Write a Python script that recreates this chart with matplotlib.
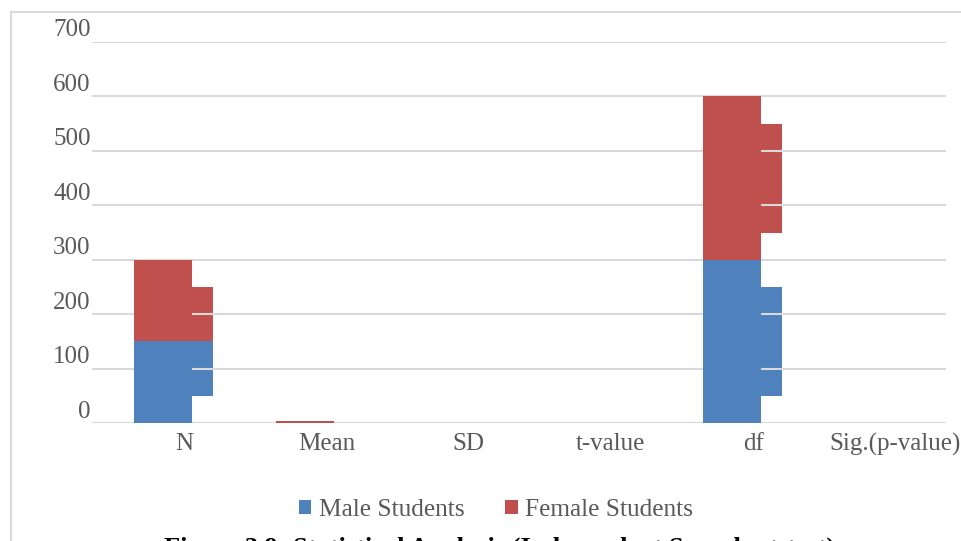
import matplotlib.pyplot as plt
import numpy as np
from matplotlib.patches import Rectangle
from matplotlib.transforms import ScaledTranslation

plt.rcParams['font.family'] = ['Liberation Serif', 'DejaVu Serif']

categories = ['N', 'Mean', 'SD', 't-value', 'df', 'Sig.(p-value)']
male = [150, 0.4, 0.3, 0.2, 300, 0.0]
female = [150, 3.6, 0.4, 0.2, 300, 0.0]

# offset copy of the columns that sits behind the gridlines
back_male_low = [50, 0, 0, 0, 50, 0]
back_male_high = [150, 0, 0, 0, 250, 0]
back_female_low = [150, 0, 0, 0, 350, 0]
back_female_high = [250, 0, 0, 0, 550, 0]

yticks = [0, 100, 200, 300, 400, 500, 600, 700]

BLUE = '#4F81BD'
RED = '#C0504D'
GRID = '#D9D9D9'
TEXT = '#595959'

W, H = 962, 541
fig = plt.figure(figsize=(W / 100, H / 100), dpi=100)
ax = fig.add_axes([92 / W, 118 / H, (946 - 92) / W, (423 - 42) / H])

x = np.arange(len(categories))
width = 0.41
shift = 0.148

# back layer
ax.bar(x, np.array(back_male_high) - np.array(back_male_low), width,
       bottom=back_male_low, color=BLUE, zorder=0.3)
ax.bar(x, np.array(back_female_high) - np.array(back_female_low), width,
       bottom=back_female_low, color=RED, zorder=0.3)

# stacked columns
ax.bar(x - shift, male, width, color=BLUE, label='Male Students', zorder=1)
ax.bar(x - shift, female, width, bottom=male, color=RED,
       label='Female Students', zorder=1)

ax.set_axisbelow(True)
ax.set_ylim(0, 700)
ax.set_xlim(-0.647, 5.355)
ax.set_yticks(yticks)
ax.yaxis.grid(True, color=GRID, linewidth=1.5)
ax.axhline(0, color=GRID, linewidth=2.2, zorder=0.5)
ax.set_xticks(x)
ax.set_xticklabels(categories)
for s in ax.spines.values():
    s.set_visible(False)
ax.tick_params(axis='both', length=0, colors=TEXT, labelsize=18)
ax.tick_params(axis='y', pad=1)
ax.tick_params(axis='x', pad=7)
for lab in ax.get_yticklabels():
    lab.set_transform(lab.get_transform() +
                      ScaledTranslation(0, 0.14, fig.dpi_scale_trans))

leg = fig.legend(loc='center', bbox_to_anchor=(496 / W, 1 - 510 / H),
                 ncol=2, frameon=False, fontsize=18.3, handlelength=0.5,
                 handleheight=0.5, handletextpad=0.3, columnspacing=1.6,
                 labelcolor=TEXT)

# figure caption, running off the bottom edge
fig.text(500 / W, 1 - 537 / H,
         'Figure 3.9: Statistical Analysis (Independent Samples t-test)',
         ha='center', va='top', fontsize=19, fontweight='bold',
         color='black')

# chart area border
fig.patches.append(Rectangle((11 / W, -0.1), 1.2, 1 - 12 / H + 0.1,
                             transform=fig.transFigure, fill=False,
                             edgecolor=GRID, linewidth=1.5))

fig.savefig('out.png', dpi=100)
